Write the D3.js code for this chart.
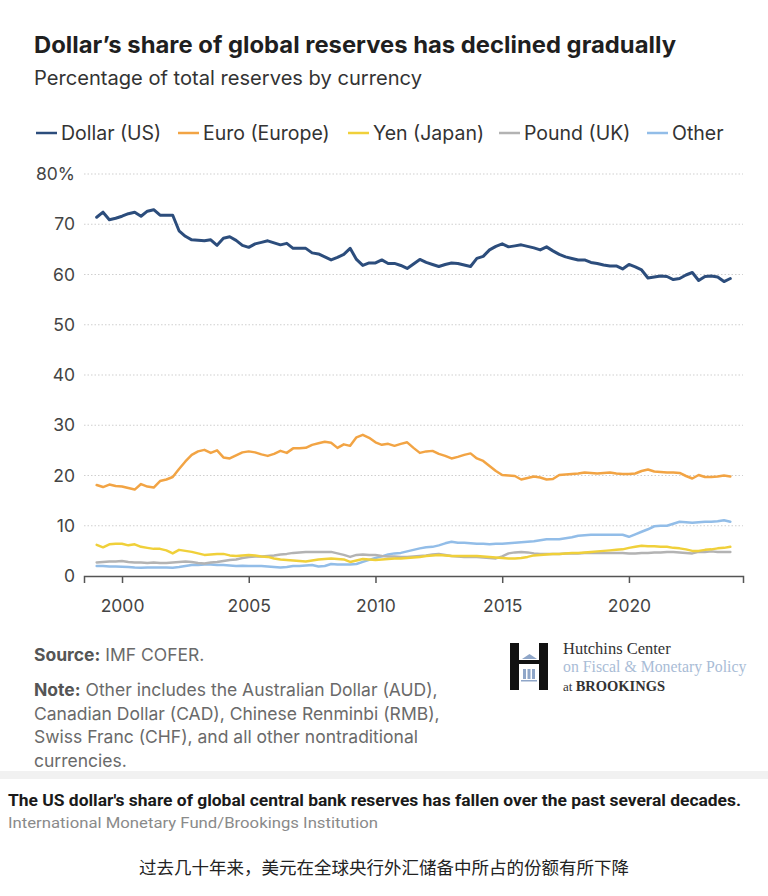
<!DOCTYPE html>
<html>
<head>
<meta charset="utf-8">
<script src="https://cdn.jsdelivr.net/npm/d3@7"></script>
<style>
  html, body { margin: 0; padding: 0; background: #ffffff; }
  svg { display: block; }
</style>
</head>
<body>
<svg id="chart" width="768" height="896"></svg>
<script>
// ---------------- DATA (quarterly, 1999Q1 – 2024Q1) ----------------
const startYear = 1999;
const seriesNames = ["Dollar (US)", "Euro (Europe)", "Yen (Japan)", "Pound (UK)", "Other"];
const dollar = [
  71.4, 72.4, 70.9, 71.2,  71.6, 72.1, 72.4, 71.6,  72.6, 72.9, 71.8, 71.8,
  71.8, 68.7, 67.6, 66.9,  66.8, 66.7, 66.9, 65.8,  67.2, 67.5, 66.8, 65.8,
  65.4, 66.1, 66.4, 66.7,  66.3, 65.9, 66.2, 65.2,  65.2, 65.2, 64.3, 64.1,
  63.5, 62.9, 63.4, 64.0,  65.2, 63.0, 61.8, 62.3,  62.3, 62.9, 62.2, 62.2,
  61.8, 61.2, 62.1, 63.0,  62.4, 62.0, 61.6, 62.0,  62.3, 62.2, 61.9, 61.6,
  63.2, 63.6, 64.9, 65.6,  66.1, 65.5, 65.7, 65.9,  65.6, 65.3, 64.9, 65.5,
  64.7, 64.0, 63.5, 63.2,  62.9, 62.9, 62.4, 62.2,  61.9, 61.7, 61.7, 61.1,
  62.0, 61.5, 60.9, 59.3,  59.5, 59.7, 59.6, 59.0,  59.2, 59.9, 60.4, 58.8,
  59.6, 59.7, 59.5, 58.6,  59.2
];
const euro = [
  18.1, 17.7, 18.2, 17.9,  17.8, 17.5, 17.2, 18.3,  17.8, 17.6, 18.9, 19.2,
  19.7, 21.3, 22.8, 24.1,  24.8, 25.1, 24.5, 25.0,  23.6, 23.4, 24.0, 24.6,
  24.8, 24.6, 24.2, 23.9,  24.3, 24.9, 24.5, 25.4,  25.4, 25.5, 26.1, 26.4,
  26.7, 26.5, 25.5, 26.2,  25.9, 27.6, 28.1, 27.5,  26.6, 26.1, 26.3, 25.9,
  26.3, 26.6, 25.5, 24.5,  24.8, 24.9, 24.3, 23.9,  23.4, 23.7, 24.1, 24.4,
  23.4, 22.9, 21.9, 20.9,  20.1, 20.0, 19.9, 19.2,  19.5, 19.8, 19.6, 19.2,
  19.3, 20.1, 20.2, 20.3,  20.4, 20.6, 20.5, 20.4,  20.5, 20.6, 20.4, 20.3,
  20.3, 20.4, 20.9, 21.2,  20.8, 20.7, 20.6, 20.6,  20.5, 19.9, 19.4, 20.1,
  19.7, 19.7, 19.8, 20.0,  19.8
];
const yen = [
  6.2, 5.7, 6.3, 6.4,  6.4, 6.1, 6.3, 5.8,  5.6, 5.4, 5.4, 5.1,
  4.5, 5.2, 5.0, 4.8,  4.5, 4.2, 4.3, 4.4,  4.4, 4.1, 4.0, 4.1,
  4.2, 4.1, 3.9, 3.8,  3.5, 3.3, 3.2, 3.1,  3.0, 2.9, 3.1, 3.3,
  3.4, 3.5, 3.4, 3.3,  2.8, 3.1, 3.4, 3.3,  3.2, 3.3, 3.4, 3.5,
  3.5, 3.6, 3.7, 3.8,  4.0, 4.1, 4.2, 4.1,  4.0, 4.0, 4.0, 4.0,
  4.0, 3.9, 3.8, 3.7,  3.6, 3.5, 3.5, 3.6,  3.8, 4.1, 4.2, 4.3,
  4.4, 4.4, 4.5, 4.6,  4.6, 4.7, 4.8, 4.9,  5.0, 5.1, 5.2, 5.3,
  5.6, 5.8, 6.0, 5.9,  5.9, 5.8, 5.8, 5.6,  5.5, 5.3, 5.0, 5.0,
  5.2, 5.3, 5.5, 5.6,  5.8
];
const pound = [
  2.7, 2.8, 2.9, 2.9,  3.0, 2.8, 2.7, 2.7,  2.6, 2.7, 2.6, 2.6,
  2.7, 2.8, 2.9, 2.8,  2.6, 2.5, 2.7, 2.8,  3.0, 3.2, 3.3, 3.6,
  3.8, 3.9, 3.9, 4.0,  4.1, 4.3, 4.4, 4.6,  4.7, 4.8, 4.8, 4.8,
  4.8, 4.8, 4.5, 4.2,  3.8, 4.2, 4.3, 4.2,  4.2, 4.0, 3.9, 3.9,
  3.8, 3.8, 3.9, 4.0,  4.1, 4.3, 4.4, 4.2,  4.0, 3.9, 3.8, 3.8,
  3.8, 3.7, 3.6, 3.5,  3.9, 4.5, 4.7, 4.8,  4.7, 4.5, 4.4, 4.4,
  4.4, 4.4, 4.5, 4.5,  4.5, 4.6, 4.6, 4.6,  4.6, 4.6, 4.6, 4.6,
  4.5, 4.5, 4.6, 4.6,  4.7, 4.7, 4.8, 4.8,  4.7, 4.6, 4.5, 4.8,
  4.8, 4.9, 4.8, 4.8,  4.8
];
const other = [
  2.0, 2.0, 1.9, 1.9,  1.85, 1.8, 1.7, 1.65,  1.7, 1.7, 1.7, 1.7,
  1.65, 1.8, 2.0, 2.2,  2.2, 2.3, 2.3, 2.2,  2.2, 2.1, 2.0, 2.05,
  2.0, 2.0, 2.0, 1.9,  1.8, 1.7, 1.8, 2.0,  2.0, 2.1, 2.2, 1.9,
  2.0, 2.4, 2.3, 2.3,  2.3, 2.4, 2.8, 3.2,  3.6, 3.9, 4.3, 4.5,
  4.6, 4.9, 5.2, 5.5,  5.7, 5.8, 6.1, 6.5,  6.8, 6.6, 6.6, 6.5,
  6.4, 6.4, 6.3, 6.4,  6.4, 6.5, 6.6, 6.7,  6.8, 6.9, 7.1, 7.3,
  7.3, 7.3, 7.5, 7.7,  8.0, 8.1, 8.2, 8.2,  8.2, 8.2, 8.2, 8.2,
  7.8, 8.3, 8.8, 9.3,  9.9, 10.0, 10.0, 10.4,  10.8, 10.7, 10.6, 10.7,
  10.8, 10.8, 10.9, 11.1,  10.8
];
const xTickYears = [2000, 2005, 2010, 2015, 2020];
const yTicks = [0, 10, 20, 30, 40, 50, 60, 70, 80];
const colors = ["#2c4d7c", "#f2a444", "#f0d03a", "#b3b3b3", "#92bde8"];

// ---------------- LAYOUT ----------------
const svg = d3.select("#chart");
const FONT = "Inter, 'Noto Sans', 'Liberation Sans', sans-serif";

const x = d3.scaleLinear().domain([1998.5, 2024.5]).range([84, 743]);
const y = d3.scaleLinear().domain([0, 80]).range([576, 174]);

// title & subtitle
svg.append("text").attr("x", 34).attr("y", 53)
  .attr("font-family", FONT).attr("font-weight", 700).attr("font-size", 22.5)
  .attr("fill", "#1f1f1f")
  .attr("textLength", 642).attr("lengthAdjust", "spacingAndGlyphs")
  .text("Dollar’s share of global reserves has declined gradually");
svg.append("text").attr("x", 34).attr("y", 85)
  .attr("font-family", FONT).attr("font-size", 19.5).attr("fill", "#333")
  .attr("textLength", 388).attr("lengthAdjust", "spacingAndGlyphs")
  .text("Percentage of total reserves by currency");

// legend
const legendTextX = [61, 203, 373, 524, 672];
const legend = svg.append("g").attr("font-family", FONT).attr("font-size", 19.5).attr("fill", "#333");
seriesNames.forEach((name, i) => {
  const g = legend.append("g").attr("transform", `translate(${legendTextX[i]},133)`);
  g.append("line").attr("x1", -25).attr("x2", -4).attr("y1", 0).attr("y2", 0)
    .attr("stroke", colors[i]).attr("stroke-width", 2.5);
  g.append("text").attr("x", 0).attr("y", 7).text(name);
});

// gridlines
const grid = svg.append("g");
yTicks.filter(t => t > 0).forEach(t => {
  grid.append("line").attr("x1", 84).attr("x2", 743).attr("y1", y(t)).attr("y2", y(t))
    .attr("stroke", "#cfcfcf").attr("stroke-width", 1).attr("stroke-dasharray", "1.5,2");
});

// y axis labels
const yAxis = svg.append("g").attr("transform", "translate(75,0)")
  .call(d3.axisLeft(y).tickValues(yTicks).tickSize(0).tickPadding(0)
    .tickFormat(d => d === 80 ? "80%" : d));
yAxis.select(".domain").remove();
yAxis.selectAll("text").attr("font-family", FONT).attr("font-size", 17.5).attr("fill", "#444");

// x axis
const xAxis = svg.append("g").attr("transform", "translate(0,576)")
  .call(d3.axisBottom(x).tickValues(xTickYears).tickSize(7).tickPadding(17).tickFormat(d3.format("d")));
xAxis.select(".domain").attr("stroke", "#555").attr("stroke-width", 1.5);
xAxis.selectAll(".tick line").attr("stroke", "#555").attr("stroke-width", 1.5);
xAxis.selectAll("text").attr("font-family", FONT).attr("font-size", 17.5).attr("fill", "#444");

// lines
const allSeries = [dollar, euro, yen, pound, other];
const line = d3.line().x((d, i) => x(startYear + i / 4)).y(d => y(d));
const drawOrder = [4, 3, 2, 1, 0];
drawOrder.forEach(si => {
  svg.append("path").datum(allSeries[si])
    .attr("d", line).attr("fill", "none")
    .attr("stroke", colors[si]).attr("stroke-width", si === 0 ? 3 : 2.5)
    .attr("stroke-linejoin", "round").attr("stroke-linecap", "round");
});

// source & note
const notes = svg.append("g").attr("font-family", FONT).attr("font-size", 17.5).attr("fill", "#6a6a6a");
const s1 = notes.append("text").attr("x", 34).attr("y", 661);
s1.append("tspan").attr("font-weight", 700).attr("fill", "#555").text("Source:");
s1.append("tspan").text(" IMF COFER.");
const noteLines = [
  ["Note:", " Other includes the Australian Dollar (AUD),"],
  ["", "Canadian Dollar (CAD), Chinese Renminbi (RMB),"],
  ["", "Swiss Franc (CHF), and all other nontraditional"],
  ["", "currencies."]
];
noteLines.forEach((l, i) => {
  const t = notes.append("text").attr("x", 34).attr("y", 696 + i * 23.5);
  if (l[0]) t.append("tspan").attr("font-weight", 700).attr("fill", "#555").text(l[0]);
  t.append("tspan").text(l[1]);
});

// logo
const logo = svg.append("g");
logo.append("rect").attr("x", 510).attr("y", 643).attr("width", 9).attr("height", 47).attr("fill", "#111");
logo.append("rect").attr("x", 539).attr("y", 643).attr("width", 9).attr("height", 47).attr("fill", "#111");
logo.append("rect").attr("x", 519).attr("y", 660).attr("width", 20).attr("height", 4).attr("fill", "#111");
logo.append("path").attr("d", "M522,659 L529.5,654 L537,659 Z").attr("fill", "#8fa6c8");
[523, 527.5, 532].forEach(cx => logo.append("rect").attr("x", cx).attr("y", 669).attr("width", 3).attr("height", 10).attr("fill", "#8fa6c8"));
logo.append("rect").attr("x", 521).attr("y", 680).attr("width", 16).attr("height", 1.5).attr("fill", "#8fa6c8");
const SERIF = "'Liberation Serif', 'DejaVu Serif', serif";
logo.append("text").attr("x", 563).attr("y", 654).attr("font-family", SERIF).attr("font-size", 16.5)
  .attr("fill", "#333").text("Hutchins Center");
logo.append("text").attr("x", 563).attr("y", 672).attr("font-family", SERIF).attr("font-size", 15.8)
  .attr("fill", "#a9bcd6").text("on Fiscal & Monetary Policy");
const br = logo.append("text").attr("x", 563).attr("y", 691).attr("font-family", SERIF).attr("fill", "#333");
br.append("tspan").attr("font-size", 13).text("at ");
br.append("tspan").attr("font-size", 14.5).attr("font-weight", 700).text("BROOKINGS");

// separator band
svg.append("rect").attr("x", 0).attr("y", 771).attr("width", 768).attr("height", 8).attr("fill", "#f1f1f1");

// caption
svg.append("text").attr("x", 8).attr("y", 806)
  .attr("font-family", "'Liberation Sans Narrow', 'Roboto', sans-serif").attr("font-weight", 700)
  .attr("font-size", 16).attr("fill", "#1a1a1a")
  .attr("textLength", 733).attr("lengthAdjust", "spacingAndGlyphs")
  .text("The US dollar's share of global central bank reserves has fallen over the past several decades.");
svg.append("text").attr("x", 8).attr("y", 828)
  .attr("font-family", "'Liberation Sans Narrow', 'Roboto', sans-serif")
  .attr("font-size", 15).attr("fill", "#8a8a8a")
  .attr("textLength", 370).attr("lengthAdjust", "spacingAndGlyphs")
  .text("International Monetary Fund/Brookings Institution");

// Chinese caption
svg.append("text").attr("x", 384).attr("y", 874).attr("text-anchor", "middle")
  .attr("font-family", "'Noto Sans CJK SC', sans-serif").attr("font-size", 17.5).attr("fill", "#222")
  .text("过去几十年来，美元在全球央行外汇储备中所占的份额有所下降");
</script>
</body>
</html>
